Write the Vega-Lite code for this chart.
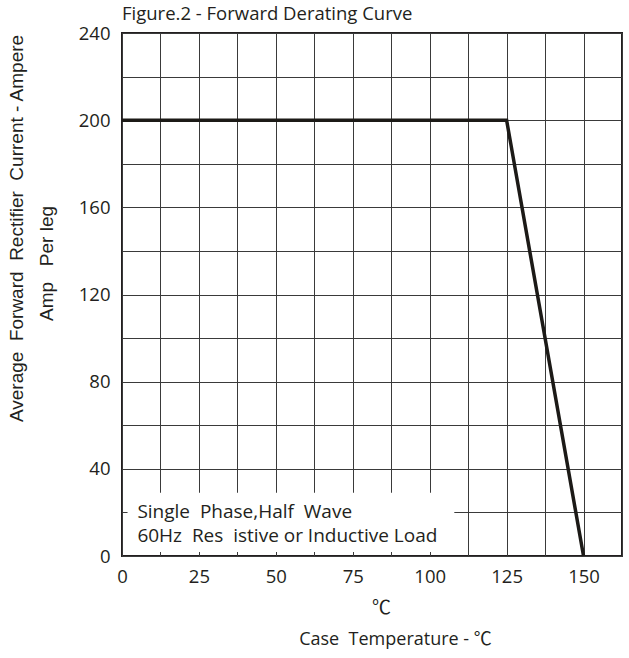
{
  "$schema": "https://vega.github.io/schema/vega-lite/v6.json",
  "autosize": "none",
  "width": 500,
  "height": 523,
  "padding": {"left": 122, "top": 33, "right": 7, "bottom": 102},
  "background": "white",
  "title": {
    "text": "Figure.2 - Forward Derating Curve",
    "anchor": "start",
    "frame": "group",
    "font": "Open Sans",
    "fontSize": 18.5,
    "fontWeight": "normal",
    "color": "#231f20",
    "offset": 1
  },
  "config": {
    "view": {"stroke": "#231f20", "strokeWidth": 2},
    "axis": {
      "gridColor": "#3a3a3a",
      "gridWidth": 1,
      "gridOpacity": 1,
      "domain": false,
      "ticks": false,
      "tickSize": 0,
      "labelFont": "Open Sans",
      "labelFontSize": 18.5,
      "labelColor": "#231f20",
      "labelOverlap": false,
      "labelFlush": false,
      "titleColor": "#231f20",
      "titleFontWeight": "normal"
    }
  },
  "resolve": {"axis": {"x": "independent", "y": "independent"}},
  "datasets": {
    "curve": [
      {"temp": 0, "amp": 200},
      {"temp": 125, "amp": 200},
      {"temp": 150, "amp": 0}
    ],
    "box": [
      {"x1": 1.8, "x2": 108, "y1": 1.8, "y2": 29}
    ],
    "notes": [
      {"temp": 5, "amp": 17.4, "label": "Single\u00a0\u00a0Phase,Half\u00a0\u00a0Wave"},
      {"temp": 5, "amp": 6.4, "label": "60Hz\u00a0\u00a0Res\u00a0\u00a0istive or Inductive Load"}
    ]
  },
  "layer": [
    {
      "data": {"name": "box"},
      "mark": {"type": "rect", "fill": "white", "stroke": null},
      "encoding": {
        "x": {
          "field": "x1",
          "type": "quantitative",
          "scale": {"domain": [0, 162.5], "nice": false, "zero": false},
          "axis": {
            "orient": "bottom",
            "grid": true,
            "values": [0, 12.5, 25, 37.5, 50, 62.5, 75, 87.5, 100, 112.5, 125, 137.5, 150, 162.5],
            "labelExpr": "datum.value % 25 == 0 && datum.value <= 150 ? datum.label : ''",
            "labelPadding": 11,
            "title": "Case\u00a0\u00a0Temperature - ℃",
            "titleFont": "'Open Sans', 'Noto Sans CJK SC'",
            "titleFontSize": 18,
            "titleAlign": "center",
            "titleBaseline": "alphabetic",
            "titleX": 273,
            "titleY": 88
          }
        },
        "x2": {"field": "x2"},
        "y": {
          "field": "y1",
          "type": "quantitative",
          "scale": {"domain": [0, 240], "nice": false, "zero": false},
          "axis": {
            "orient": "left",
            "grid": true,
            "values": [0, 20, 40, 60, 80, 100, 120, 140, 160, 180, 200, 220, 240],
            "labelExpr": "datum.value % 40 == 0 ? datum.label : ''",
            "labelPadding": 12,
            "title": "Average\u00a0\u00a0Forward\u00a0\u00a0Rectifier\u00a0\u00a0Current - Ampere",
            "titleFont": "Liberation Sans",
            "titleFontSize": 19,
            "titleAngle": -90,
            "titleAlign": "center",
            "titleBaseline": "alphabetic",
            "titleX": -100,
            "titleY": 195
          }
        },
        "y2": {"field": "y2"}
      }
    },
    {
      "data": {"name": "curve"},
      "mark": {"type": "line", "color": "#1c1a17", "strokeWidth": 3.5, "strokeJoin": "miter", "strokeCap": "butt"},
      "encoding": {
        "x": {
          "field": "temp",
          "type": "quantitative",
          "axis": {
            "orient": "bottom",
            "grid": false,
            "labels": false,
            "values": [],
            "title": "℃",
            "titleFont": "Noto Sans CJK SC",
            "titleFontSize": 19,
            "titleAlign": "center",
            "titleBaseline": "alphabetic",
            "titleX": 259,
            "titleY": 57
          }
        },
        "y": {
          "field": "amp",
          "type": "quantitative",
          "axis": {
            "orient": "left",
            "grid": false,
            "labels": false,
            "values": [],
            "title": "Amp\u00a0\u00a0\u00a0Per leg",
            "titleFont": "Liberation Sans",
            "titleFontSize": 19,
            "titleAngle": -90,
            "titleAlign": "center",
            "titleBaseline": "alphabetic",
            "titleX": -70,
            "titleY": 230
          }
        }
      }
    },
    {
      "data": {"name": "notes"},
      "mark": {"type": "text", "align": "left", "baseline": "alphabetic", "font": "Open Sans", "fontSize": 19, "color": "#231f20"},
      "encoding": {
        "x": {"field": "temp", "type": "quantitative", "axis": null},
        "y": {"field": "amp", "type": "quantitative", "axis": null},
        "text": {"field": "label"}
      }
    }
  ]
}
